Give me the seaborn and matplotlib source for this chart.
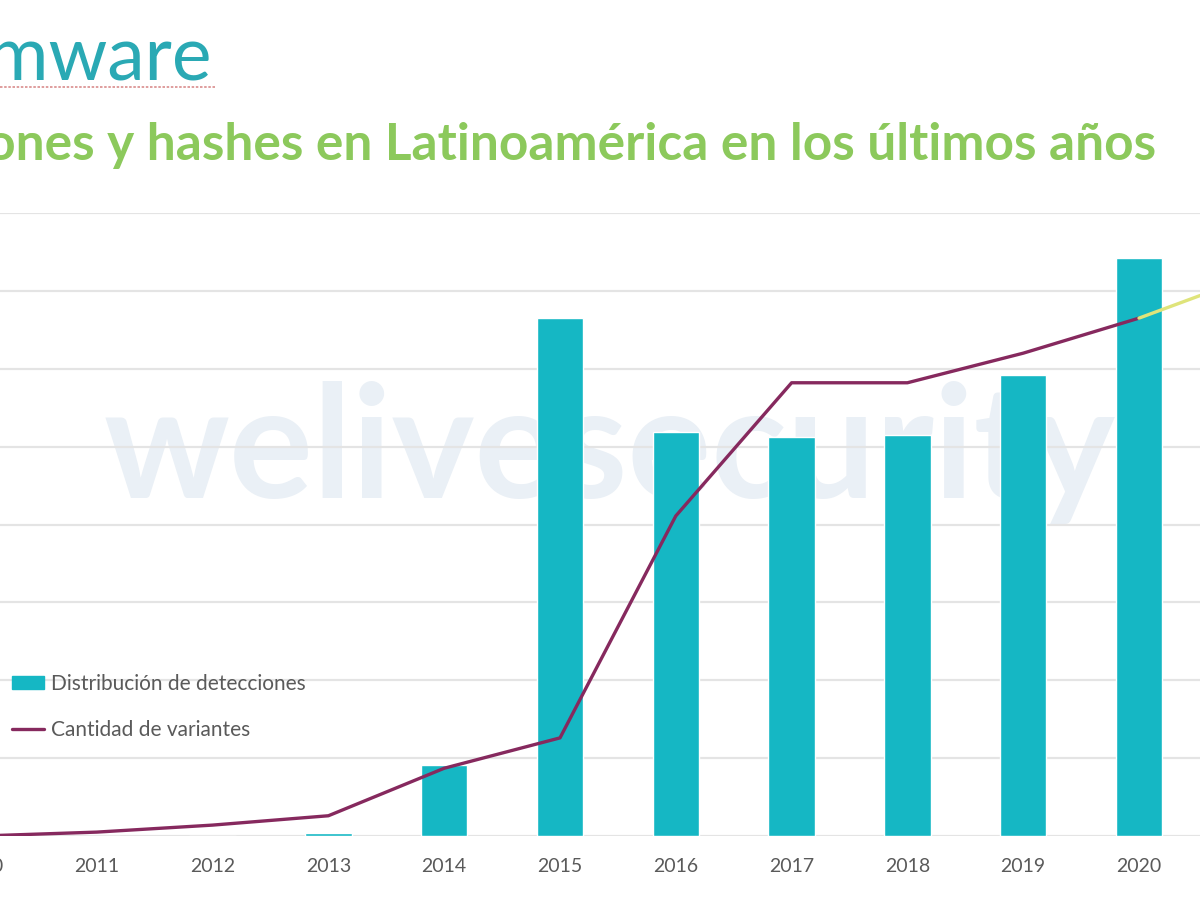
import numpy as np
import pandas as pd
import matplotlib
matplotlib.use("Agg")
import matplotlib.pyplot as plt
from matplotlib.lines import Line2D
from matplotlib.patches import Patch
import seaborn as sns

# ---------------- data ----------------
years = ["2010", "2011", "2012", "2013", "2014", "2015", "2016", "2017", "2018", "2019", "2020", "2021"]
bar_years = ["2010", "2011", "2012", "2013", "2014", "2015", "2016", "2017", "2018", "2019", "2020"]
detecciones = [0.0, 0.0, 0.0, 0.04, 0.91, 6.65, 5.19, 5.12, 5.15, 5.92, 7.42]
variantes = [0.0, 0.05, 0.14, 0.26, 0.87, 1.26, 4.11, 5.82, 5.82, 6.20, 6.65]
variantes_2021 = 7.2
title = "Ransomware"
subtitle = "Detecciones y hashes en Latinoamérica en los últimos años"
legend_labels = ["Distribución de detecciones", "Cantidad de variantes"]
watermark = "welivesecurity"

# ---------------- style ----------------
sns.set_theme(style="white")
plt.rcParams["font.family"] = ["Lato", "DejaVu Sans"]

BAR = "#15b7c4"
LINE = "#86295e"
GRID = "#e4e4e4"
TXT = "#5a5a5a"

W, H = 1200, 900
fig = plt.figure(figsize=(12, 9), dpi=100)
fig.patch.set_facecolor("white")

# axes spanning beyond the visible crop (chart is cut at both sides)
step = 115.8
x0 = -19.0          # pixel of first category
left_px = -40.0
ax = fig.add_axes([left_px / W, 64 / H, (W - left_px) / W, (836 - 213) / H])
ax.set_facecolor("none")

df_bar = pd.DataFrame({"year": bar_years, "val": detecciones})
sns.barplot(data=df_bar, x="year", y="val", order=years, color=BAR,
            width=0.40, saturation=1, ax=ax, zorder=2)

pos = np.arange(len(variantes))
df_line = pd.DataFrame({"pos": pos, "val": variantes})
sns.lineplot(data=df_line, x="pos", y="val", color=LINE, lw=2.4, ax=ax,
             zorder=3, sort=False)
# faded continuation toward 2021
df_tail = pd.DataFrame({"pos": [len(variantes) - 1, len(variantes)],
                        "val": [variantes[-1], variantes_2021]})
sns.lineplot(data=df_tail, x="pos", y="val", color="#dfe47a", lw=2.4, ax=ax, zorder=3)

ax.set_xticks(np.arange(len(years)))
ax.set_xticklabels(years, color=TXT, fontsize=14)
ax.tick_params(axis="x", length=0, pad=16)
ax.set_yticks(np.arange(0, 9, 1))
ax.set_yticklabels([])
ax.tick_params(axis="y", length=0)
ax.set_xlim((left_px - x0) / step, (W - x0) / step)
ax.set_ylim(0, 8.0)
ax.grid(axis="y", color=GRID, lw=1.6, zorder=0)
ax.set_axisbelow(True)
for s in ax.spines.values():
    s.set_visible(False)
ax.set_xlabel("")
ax.set_ylabel("")

# watermark
fig.text(610 / W, 1 - 452 / H, watermark, color="#eaf0f6", fontsize=113,
         fontweight="bold", ha="center", va="center", zorder=-1)

# titles (cropped on the left as in the reference)
fig.text(212 / W, 1 - 79 / H, title, color="#2aa9b4", fontsize=54,
         ha="right", va="baseline")
fig.add_artist(Line2D([0, 215 / W], [1 - 87 / H, 1 - 87 / H],
                      color="#d98c8c", lw=1.2, ls=(0, (1.5, 1))))
fig.text(1156 / W, 1 - 160 / H, subtitle, color="#8cc95c", fontsize=37,
         fontweight="bold", ha="right", va="baseline")

# legend
handles = [Patch(facecolor=BAR, edgecolor=BAR),
           Line2D([0], [0], color=LINE, lw=2.4)]
leg = fig.legend(handles, legend_labels, loc="upper left",
                 bbox_to_anchor=(8 / W, 1 - 670 / H), bbox_transform=fig.transFigure,
                 frameon=False, fontsize=15, handlelength=1.55, handleheight=0.6,
                 handletextpad=0.3, labelspacing=1.25, borderaxespad=0.0,
                 borderpad=0.2)
for t in leg.get_texts():
    t.set_color(TXT)

fig.savefig("out.png", dpi=100, facecolor="white")
